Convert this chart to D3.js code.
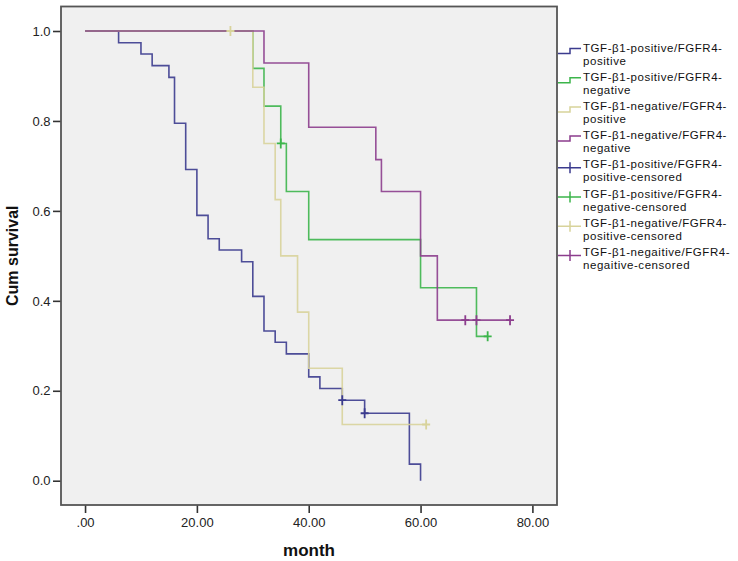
<!DOCTYPE html>
<html>
<head>
<meta charset="utf-8">
<script src="https://cdn.jsdelivr.net/npm/d3@7"></script>
<style>
  html, body { margin: 0; padding: 0; background: #ffffff; }
  svg { display: block; font-family: "Liberation Sans", Arial, sans-serif; }
</style>
</head>
<body>
<svg id="chart" width="738" height="561"></svg>
<script>
// ---- data ----
const seriesNames = [
  "TGF-β1-positive/FGFR4-positive",
  "TGF-β1-positive/FGFR4-negative",
  "TGF-β1-negative/FGFR4-positive",
  "TGF-β1-negative/FGFR4-negative"
];
const legendLabels = [
  ["TGF-β1-positive/FGFR4-", "positive"],
  ["TGF-β1-positive/FGFR4-", "negative"],
  ["TGF-β1-negative/FGFR4-", "positive"],
  ["TGF-β1-negative/FGFR4-", "negative"],
  ["TGF-β1-positive/FGFR4-", "positive-censored"],
  ["TGF-β1-positive/FGFR4-", "negative-censored"],
  ["TGF-β1-negative/FGFR4-", "positive-censored"],
  ["TGF-β1-negaitive/FGFR4-", "negaitive-censored"]
];

// TGF-β1-positive / FGFR4-positive
const posPosTimes = [0, 6, 10, 12, 15, 16, 18, 20, 22, 24, 28, 30, 32, 34, 36, 40, 42, 46, 50, 58, 60];
const posPosSurv  = [1, 0.974, 0.949, 0.923, 0.897, 0.795, 0.692, 0.590, 0.538, 0.513, 0.487, 0.410, 0.333, 0.308, 0.282, 0.231, 0.205, 0.179, 0.150, 0.037, 0];
const posPosCensTimes = [46, 50];
const posPosCensSurv  = [0.179, 0.150];

// TGF-β1-positive / FGFR4-negative
const posNegTimes = [0, 30, 32, 35, 36, 40, 60, 70, 72];
const posNegSurv  = [1, 0.917, 0.833, 0.750, 0.643, 0.536, 0.429, 0.321, 0.321];
const posNegCensTimes = [35, 72];
const posNegCensSurv  = [0.750, 0.321];

// TGF-β1-negative / FGFR4-positive
const negPosTimes = [0, 26, 30, 32, 34, 35, 38, 40, 46, 61];
const negPosSurv  = [1, 1, 0.875, 0.750, 0.625, 0.500, 0.375, 0.250, 0.125, 0.125];
const negPosCensTimes = [26, 61];
const negPosCensSurv  = [1, 0.125];

// TGF-β1-negative / FGFR4-negative
const negNegTimes = [0, 32, 40, 52, 53, 60, 63, 76];
const negNegSurv  = [1, 0.929, 0.786, 0.714, 0.643, 0.500, 0.357, 0.357];
const negNegCensTimes = [68, 70, 76];
const negNegCensSurv  = [0.357, 0.357, 0.357];

const xTicks = [0, 20, 40, 60, 80];
const yTicks = [0, 0.2, 0.4, 0.6, 0.8, 1.0];
const colors = ["#3b3b8e", "#3cb54b", "#d8d39b", "#8c3d8d"];

// ---- layout ----
const svg = d3.select("#chart");
const plot = { left: 61, top: 6.5, right: 557, bottom: 505 };
const W = plot.right - plot.left, H = plot.bottom - plot.top;

const x = d3.scaleLinear().domain([-4.3, 84.4]).range([0, W]);
const y = d3.scaleLinear().domain([-0.054, 1.0545]).range([H, 0]);

const g = svg.append("g").attr("transform", `translate(${plot.left},${plot.top})`);

g.append("rect").attr("x", 0).attr("y", 0).attr("width", W).attr("height", H)
  .attr("fill", "#f0f0f0");

// axes
const yAxis = g.append("g")
  .call(d3.axisLeft(y).tickValues(yTicks).tickSize(8).tickPadding(2.5).tickFormat(d3.format(".1f")));
const xAxis = g.append("g").attr("transform", `translate(0,${H})`)
  .call(d3.axisBottom(x).tickValues(xTicks).tickSize(8).tickPadding(5)
    .tickFormat(d => d === 0 ? ".00" : d.toFixed(2)));
[yAxis, xAxis].forEach(a => {
  a.select(".domain").remove();
  a.selectAll(".tick line").attr("stroke", "#333").attr("stroke-width", 1.6);
  a.selectAll(".tick text").attr("fill", "#222").style("font-size", "13px")
    .style("font-family", '"Liberation Sans", Arial, sans-serif');
});

// series
const series = [
  { t: posPosTimes, s: posPosSurv, ct: posPosCensTimes, cs: posPosCensSurv },
  { t: posNegTimes, s: posNegSurv, ct: posNegCensTimes, cs: posNegCensSurv },
  { t: negPosTimes, s: negPosSurv, ct: negPosCensTimes, cs: negPosCensSurv },
  { t: negNegTimes, s: negNegSurv, ct: negNegCensTimes, cs: negNegCensSurv }
];
const line = d3.line().x(d => x(d[0])).y(d => y(d[1])).curve(d3.curveStepAfter);

series.forEach((sr, i) => {
  const pts = sr.t.map((t, k) => [t, sr.s[k]]);
  g.append("path").datum(pts).attr("d", line)
    .attr("fill", "none").attr("stroke", colors[i]).attr("stroke-width", 1.6)
    .attr("stroke-opacity", 0.9);
});
series.forEach((sr, i) => {
  sr.ct.forEach((t, k) => {
    const cx = x(t), cy = y(sr.cs[k]);
    g.append("path")
      .attr("d", `M${cx},${cy - 5}V${cy + 5}M${cx - 4},${cy}H${cx + 4}`)
      .attr("stroke", colors[i]).attr("stroke-width", 1.8).attr("fill", "none");
  });
});

// frame
g.append("rect").attr("x", 0).attr("y", 0).attr("width", W).attr("height", H)
  .attr("fill", "none").attr("stroke", "#555").attr("stroke-width", 1.8);

// axis titles
svg.append("text").attr("x", plot.left + W / 2).attr("y", 556)
  .attr("text-anchor", "middle").style("font-weight", "bold").style("font-size", "17px")
  .attr("fill", "#111").text("month");
svg.append("text").attr("transform", `translate(18,${plot.top + H / 2}) rotate(-90)`)
  .attr("text-anchor", "middle").style("font-weight", "bold").style("font-size", "16px")
  .attr("fill", "#111").text("Cum survival");

// legend
const legX = 558, legTextX = 583, legY0 = 51.5, legStep = 29.2, lineGap = 13;
legendLabels.forEach((lab, i) => {
  const by = legY0 + i * legStep;
  const c = colors[i % 4];
  const iy = by + 2;
  if (i < 4) {
    svg.append("path").attr("d", `M${legX},${iy}H${legX + 12}V${iy - 5}H${legX + 23}`)
      .attr("fill", "none").attr("stroke", c).attr("stroke-width", 1.5);
  } else {
    const cy = iy - 2.5;
    svg.append("path").attr("d", `M${legX},${cy}H${legX + 23}M${legX + 12},${cy - 5.5}V${cy + 5.5}`)
      .attr("fill", "none").attr("stroke", c).attr("stroke-width", 1.5);
  }
  [0, 1].forEach(k => {
    svg.append("text").attr("x", legTextX).attr("y", by + k * lineGap)
      .style("font-size", "11.5px").style("letter-spacing", "0.55px").attr("fill", "#111")
      .text(lab[k]);
  });
});
</script>
</body>
</html>
